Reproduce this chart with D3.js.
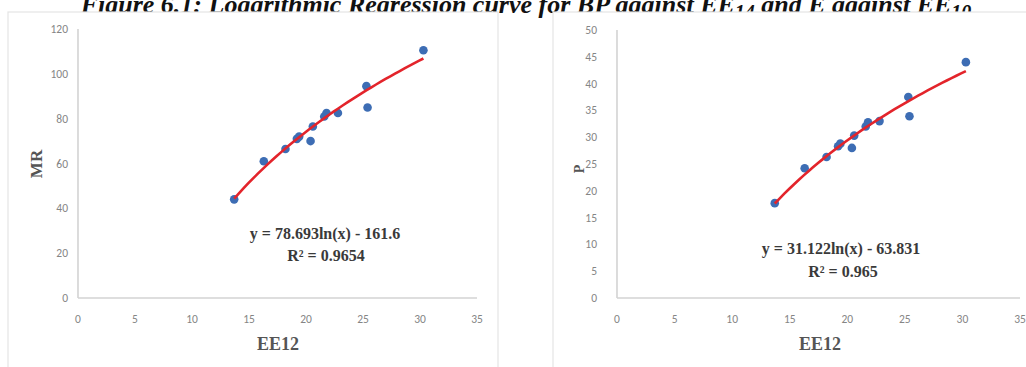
<!DOCTYPE html>
<html>
<head>
<meta charset="utf-8">
<script src="https://cdn.jsdelivr.net/npm/d3@7"></script>
<style>
  body { margin: 0; background: #fff; }
  svg { display: block; }
</style>
</head>
<body>
<div id="chart"></div>
<script>
// EE12 values shared by both panels
const EE12 = [13.7, 16.3, 18.2, 19.2, 19.4, 20.4, 20.6, 21.6, 21.8, 22.8, 25.3, 25.4, 30.3];
const MR = [44, 61, 66.5, 71, 72, 70, 76.5, 81, 82.5, 82.5, 94.5, 85, 110.5];
const P = [17.7, 24.2, 26.3, 28.3, 28.8, 28, 30.3, 32, 32.8, 33, 37.5, 33.9, 44];

const xTicks = [0, 5, 10, 15, 20, 25, 30, 35];
const mrTicks = [0, 20, 40, 60, 80, 100, 120];
const pTicks = [0, 5, 10, 15, 20, 25, 30, 35, 40, 45, 50];

// log fit coefficients, as printed on the chart
const mrFit = [78.693, -161.6];
const pFit = [31.122, -63.831];

const W = 1026, H = 367;

const svg = d3.select('#chart').append('svg')
  .attr('width', W)
  .attr('height', H);

// title (cut off at the top in the source)
const title = svg.append('text')
  .attr('x', 526)
  .attr('y', 13)
  .attr('text-anchor', 'middle')
  .style('font-family', '"Liberation Serif", "Times New Roman", serif')
  .style('font-weight', 'bold')
  .style('font-style', 'italic')
  .style('font-size', '26px')
  .attr('fill', '#111');
title.append('tspan').text('Figure 6.1: Logarithmic Regression curve for BP against EE');
title.append('tspan').attr('dy', 6).style('font-size', '20px').text('14');
title.append('tspan').attr('dy', -6).text(' and E against EE');
title.append('tspan').attr('dy', 6).style('font-size', '20px').text('10');

function panel(cfg) {
  const g = svg.append('g');

  g.append('rect')
    .attr('x', cfg.box[0]).attr('y', cfg.box[1])
    .attr('width', cfg.box[2]).attr('height', cfg.box[3])
    .attr('fill', '#fff')
    .attr('stroke', '#e4e4e4')
    .attr('stroke-width', 1.2);

  const x = d3.scaleLinear().domain([0, 35]).range(cfg.xr);
  const y = d3.scaleLinear().domain([0, cfg.ymax]).range(cfg.yr);

  // axis lines
  g.append('line')
    .attr('x1', x(0)).attr('x2', x(35))
    .attr('y1', y(0)).attr('y2', y(0))
    .attr('stroke', '#d3d3d3').attr('stroke-width', 1.6);
  g.append('line')
    .attr('x1', x(0)).attr('x2', x(0))
    .attr('y1', y(0)).attr('y2', y(cfg.ymax))
    .attr('stroke', '#d3d3d3').attr('stroke-width', 1.6);

  const tickFont = 'Calibri, Carlito, "Liberation Sans", sans-serif';

  g.selectAll('.xt').data(xTicks).enter().append('text')
    .attr('x', d => x(d))
    .attr('y', y(0) + 25)
    .attr('text-anchor', 'middle')
    .style('font-family', tickFont)
    .style('font-size', '11.5px')
    .attr('fill', '#858585')
    .text(d => d);

  g.selectAll('.yt').data(cfg.yticks).enter().append('text')
    .attr('x', cfg.ylabX)
    .attr('y', d => y(d) + 4)
    .attr('text-anchor', 'end')
    .style('font-family', tickFont)
    .style('font-size', '11.5px')
    .attr('fill', '#858585')
    .text(d => d);

  const serif = '"Liberation Serif", "Times New Roman", serif';

  g.append('text')
    .attr('x', cfg.xTitle[0]).attr('y', cfg.xTitle[1])
    .attr('text-anchor', 'middle')
    .style('font-family', serif).style('font-weight', 'bold').style('font-size', '18px')
    .attr('fill', '#555')
    .text('EE12');

  g.append('text')
    .attr('transform', `translate(${cfg.yTitle[0]},${cfg.yTitle[1]}) rotate(-90)`)
    .attr('text-anchor', 'middle')
    .attr('dy', '0.35em')
    .style('font-family', serif).style('font-weight', 'bold').style('font-size', cfg.yTitleSize)
    .attr('fill', '#555')
    .text(cfg.yName);

  // trend curve
  const xmin = d3.min(EE12), xmax = d3.max(EE12);
  const curve = d3.range(0, 41).map(i => {
    const xv = xmin + (xmax - xmin) * i / 40;
    return [xv, cfg.fit[0] * Math.log(xv) + cfg.fit[1]];
  });

  // points
  g.selectAll('circle').data(EE12).enter().append('circle')
    .attr('cx', d => x(d))
    .attr('cy', (d, i) => y(cfg.values[i]))
    .attr('r', 4.3)
    .attr('fill', '#3d6db4');

  g.append('path')
    .datum(curve)
    .attr('d', d3.line().x(d => x(d[0])).y(d => y(d[1])))
    .attr('fill', 'none')
    .attr('stroke', '#e3242b')
    .attr('stroke-width', 2.6);

  g.append('text')
    .attr('x', cfg.eq[0]).attr('y', cfg.eq[1])
    .attr('text-anchor', 'middle')
    .style('font-family', serif).style('font-weight', 'bold').style('font-size', '16px')
    .attr('fill', '#3a3a3a')
    .text(cfg.eqText);
  g.append('text')
    .attr('x', cfg.r2[0]).attr('y', cfg.r2[1])
    .attr('text-anchor', 'middle')
    .style('font-family', serif).style('font-weight', 'bold').style('font-size', '16px')
    .attr('fill', '#3a3a3a')
    .text(cfg.r2Text);
}

panel({
  box: [8, 12, 490, 370],
  xr: [78, 477], yr: [298, 29], ymax: 120,
  yticks: mrTicks, ylabX: 68,
  values: MR, fit: mrFit,
  xTitle: [278, 350], yTitle: [36, 164], yName: 'MR', yTitleSize: '17px',
  eq: [325, 239], eqText: 'y = 78.693ln(x) - 161.6',
  r2: [326, 261], r2Text: 'R² = 0.9654'
});

panel({
  box: [553, 12, 490, 370],
  xr: [617, 1020], yr: [298, 30], ymax: 50,
  yticks: pTicks, ylabX: 597,
  values: P, fit: pFit,
  xTitle: [820, 350], yTitle: [579, 169], yName: 'P', yTitleSize: '14px',
  eq: [841, 254], eqText: 'y = 31.122ln(x) - 63.831',
  r2: [843, 277], r2Text: 'R² = 0.965'
});
</script>
</body>
</html>
